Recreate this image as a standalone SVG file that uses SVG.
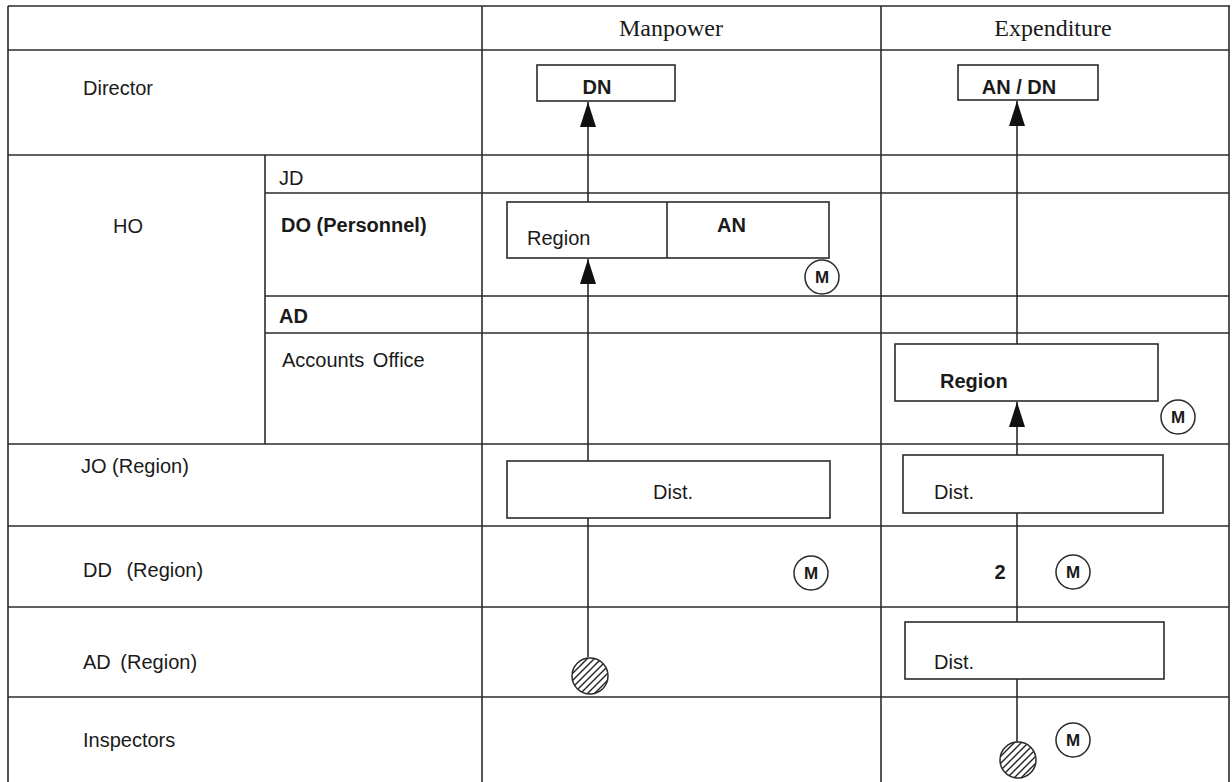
<svg xmlns="http://www.w3.org/2000/svg" width="1232" height="782" viewBox="0 0 1232 782">
<style>
.grid line{stroke:#2b2b2b;stroke-width:1.6}
.lbl{font-family:"Liberation Sans",Arial,sans-serif;font-size:20px;fill:#1a1a1a}
.b{font-weight:bold}
.hdr{font-family:"Liberation Serif","Times New Roman",serif;font-size:24px;fill:#1a1a1a;text-anchor:middle}
.box{fill:#fff;stroke:#2b2b2b;stroke-width:1.6}
.mc{fill:#fff;stroke:#2b2b2b;stroke-width:1.5}
.mt{font-family:"Liberation Sans",Arial,sans-serif;font-size:17px;font-weight:bold;fill:#1a1a1a;text-anchor:middle}
.hc{fill:url(#hatch);stroke:#2b2b2b;stroke-width:1.5}
.conn line{stroke:#2b2b2b;stroke-width:1.6}
</style>
<defs>
<marker id="arr" markerUnits="userSpaceOnUse" markerWidth="26" markerHeight="16" refX="25" refY="8" orient="auto">
<path d="M0,0 L25,8 L0,16 z" fill="#111"/>
</marker>
<pattern id="hatch" patternUnits="userSpaceOnUse" width="7" height="7">
<rect width="7" height="7" fill="#fff"/>
<path d="M0,7 L7,0 M-2,2 L2,-2 M5,9 L9,5" stroke="#222" stroke-width="1.4"/>
</pattern>
</defs>
<rect width="1232" height="782" fill="#fff"/>
<g class="grid" id="grid">
<line x1="8" y1="6" x2="1230" y2="6"/>
<line x1="8" y1="6" x2="8" y2="782"/>
<line x1="1229" y1="6" x2="1229" y2="782"/>
<line x1="482" y1="6" x2="482" y2="782"/>
<line x1="881" y1="6" x2="881" y2="782"/>
<line x1="265" y1="155" x2="265" y2="444"/>
<line x1="8" y1="50" x2="1229" y2="50"/>
<line x1="8" y1="155" x2="1229" y2="155"/>
<line x1="265" y1="193" x2="1229" y2="193"/>
<line x1="265" y1="296" x2="1229" y2="296"/>
<line x1="265" y1="333" x2="1229" y2="333"/>
<line x1="8" y1="444" x2="1229" y2="444"/>
<line x1="8" y1="526" x2="1229" y2="526"/>
<line x1="8" y1="607" x2="1229" y2="607"/>
<line x1="8" y1="697" x2="1229" y2="697"/>
</g>
<g id="labels">
<text class="hdr" x="671" y="36">Manpower</text>
<text class="hdr" x="1053" y="36">Expenditure</text>
<text class="lbl" x="83" y="95">Director</text>
<text class="lbl" x="113" y="233">HO</text>
<text class="lbl" x="279" y="185">JD</text>
<text class="lbl b" x="281" y="232">DO (Personnel)</text>
<text class="lbl b" x="279" y="323">AD</text>
<text class="lbl" x="282" y="367" word-spacing="3">Accounts Office</text>
<text class="lbl" x="81" y="473">JO (Region)</text>
<text class="lbl" x="83" y="577" word-spacing="9">DD (Region)</text>
<text class="lbl" x="83" y="669" word-spacing="4">AD (Region)</text>
<text class="lbl" x="83" y="747">Inspectors</text>
</g>
<g class="conn" id="connectors">
<line x1="588" y1="657" x2="588" y2="518"/>
<line x1="588" y1="461" x2="588" y2="259" marker-end="url(#arr)"/>
<line x1="588" y1="202" x2="588" y2="102" marker-end="url(#arr)"/>
<line x1="1017" y1="742" x2="1017" y2="679"/>
<line x1="1017" y1="622" x2="1017" y2="513"/>
<line x1="1017" y1="455" x2="1017" y2="402" marker-end="url(#arr)"/>
<line x1="1017" y1="344" x2="1017" y2="101" marker-end="url(#arr)"/>
</g>
<g id="node-dn">
<rect class="box" x="537" y="65" width="138" height="36"/>
<text class="lbl b" x="597" y="94" font-size="19" text-anchor="middle">DN</text>
</g>
<g id="node-andn">
<rect class="box" x="958" y="65" width="140" height="35"/>
<text class="lbl b" x="1019" y="94" font-size="19" text-anchor="middle">AN / DN</text>
</g>
<g id="node-region-an">
<rect class="box" x="507" y="202" width="322" height="56"/>
<line x1="667" y1="202" x2="667" y2="258" stroke="#2b2b2b" stroke-width="1.6"/>
<text class="lbl" x="527" y="245" font-size="19">Region</text>
<text class="lbl b" x="717" y="232" font-size="18">AN</text>
</g>
<g id="node-m1"><circle class="mc" cx="822" cy="277" r="17"/><text class="mt" x="822" y="283">M</text></g>
<g id="node-region-exp">
<rect class="box" x="895" y="344" width="263" height="57"/>
<text class="lbl b" x="940" y="388" font-size="18.5">Region</text>
</g>
<g id="node-m2"><circle class="mc" cx="1178" cy="417" r="17"/><text class="mt" x="1178" y="423">M</text></g>
<g id="node-dist-mp">
<rect class="box" x="507" y="461" width="323" height="57"/>
<text class="lbl" x="653" y="499" font-size="19">Dist.</text>
</g>
<g id="node-dist-exp1">
<rect class="box" x="903" y="455" width="260" height="58"/>
<text class="lbl" x="934" y="499" font-size="19">Dist.</text>
</g>
<g id="node-m3"><circle class="mc" cx="811" cy="573" r="17"/><text class="mt" x="811" y="579">M</text></g>
<g id="node-2"><text class="lbl b" x="1000" y="579" font-size="17" text-anchor="middle">2</text></g>
<g id="node-m4"><circle class="mc" cx="1073" cy="572" r="17"/><text class="mt" x="1073" y="578">M</text></g>
<g id="node-dist-exp2">
<rect class="box" x="905" y="622" width="259" height="57"/>
<text class="lbl" x="934" y="669" font-size="19">Dist.</text>
</g>
<g id="node-h1"><circle class="hc" cx="590" cy="676" r="18"/></g>
<g id="node-m5"><circle class="mc" cx="1073" cy="740" r="17"/><text class="mt" x="1073" y="746">M</text></g>
<g id="node-h2"><circle class="hc" cx="1018" cy="760" r="18"/></g>
</svg>
